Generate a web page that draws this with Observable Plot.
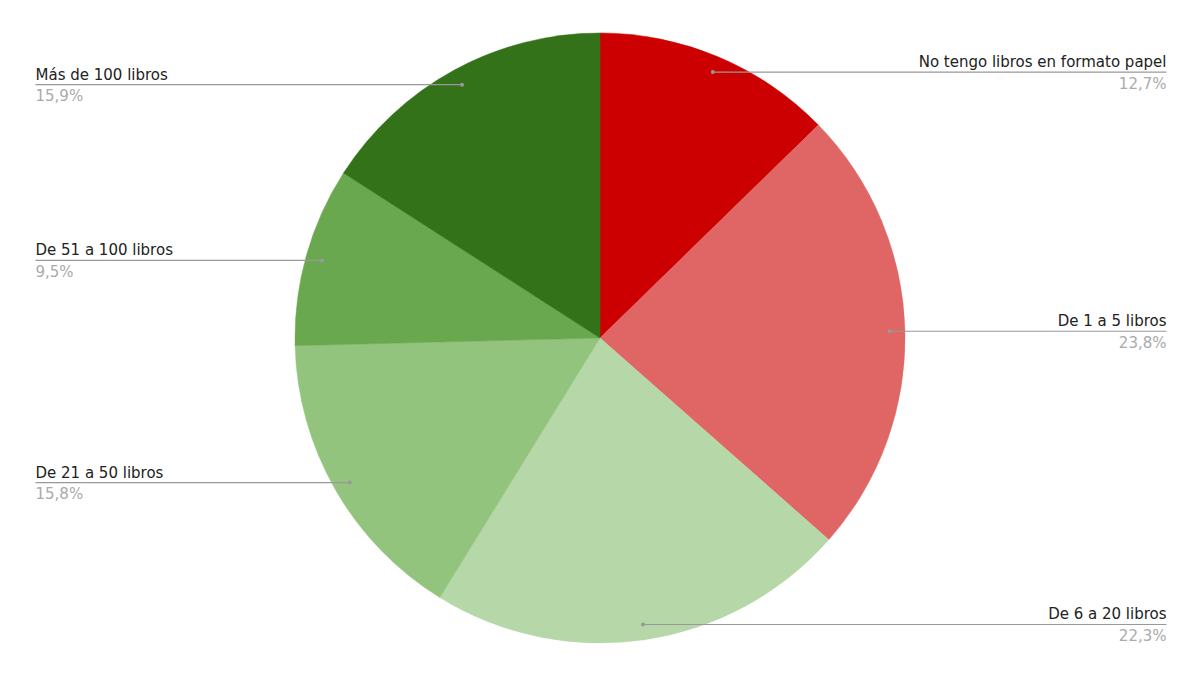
<!DOCTYPE html>
<html>
<head>
<meta charset="utf-8">
<script src="https://cdn.jsdelivr.net/npm/d3@7"></script>
<script src="https://cdn.jsdelivr.net/npm/@observablehq/plot@0.6"></script>
<style>
  html, body { margin: 0; padding: 0; background: #fff; }
  #chart svg { display: block; }
</style>
</head>
<body>
<div id="chart"></div>
<script>
const categories = ["No tengo libros en formato papel", "De 1 a 5 libros", "De 6 a 20 libros", "De 21 a 50 libros", "De 51 a 100 libros", "Más de 100 libros"];
const values = [12.7, 23.8, 22.3, 15.8, 9.5, 15.9];
const colors = ["#cc0000", "#e06666", "#b6d7a8", "#93c47d", "#6aa84f", "#34721a"];

const W = 1200, H = 678, CX = 600, CY = 338, R = 305;

const pie = d3.pie().sort(null).value(d => d.value);
const arcs = pie(categories.map((c, i) => ({name: c, value: values[i], color: colors[i]})));

const labels = arcs.map(a => {
  const mid = (a.startAngle + a.endAngle) / 2;
  const px = 0.948 * Math.sin(mid), py = 0.948 * Math.cos(mid);
  const right = px > 0;
  return {
    name: a.data.name,
    pct: a.data.value.toFixed(1).replace(".", ",") + "%",
    px, py, right,
    ex: right ? (1166 - CX) / R : (35 - CX) / R
  };
});
const rightLabels = labels.filter(d => d.right);
const leftLabels = labels.filter(d => !d.right);

function pieMark(index, scales) {
  const cx = scales.x(0), cy = scales.y(0), r = scales.x(1) - scales.x(0);
  const g = d3.create("svg:g").attr("transform", `translate(${cx},${cy})`);
  const arcGen = d3.arc().innerRadius(0).outerRadius(r);
  g.selectAll("path").data(arcs).join("path")
    .attr("d", arcGen)
    .attr("fill", d => d.data.color)
    .attr("stroke", d => d.data.color)
    .attr("stroke-width", 0.5);
  return g.node();
}

const textMarks = (data, anchor) => [
  Plot.text(data, {x: "ex", y: "py", text: "name", textAnchor: anchor, lineAnchor: "bottom", dy: -5, fill: "#222", fontSize: 15}),
  Plot.text(data, {x: "ex", y: "py", text: "pct", textAnchor: anchor, lineAnchor: "top", dy: 6, fill: "#aaa", fontSize: 15})
];

const chart = Plot.plot({
  width: W,
  height: H,
  margin: 0,
  x: {domain: [-CX / R, (W - CX) / R], range: [0, W], axis: null},
  y: {domain: [-(H - CY) / R, CY / R], range: [H, 0], axis: null},
  style: {fontFamily: "'DejaVu Sans', Verdana, sans-serif", fontSize: "15px"},
  marks: [
    pieMark,
    Plot.link(labels, {x1: "px", y1: "py", x2: "ex", y2: "py", stroke: "#999", strokeWidth: 1.2}),
    Plot.dot(labels, {x: "px", y: "py", r: 2, fill: "#999"}),
    ...textMarks(rightLabels, "end"),
    ...textMarks(leftLabels, "start")
  ]
});
document.getElementById("chart").appendChild(chart);
</script>
</body>
</html>
